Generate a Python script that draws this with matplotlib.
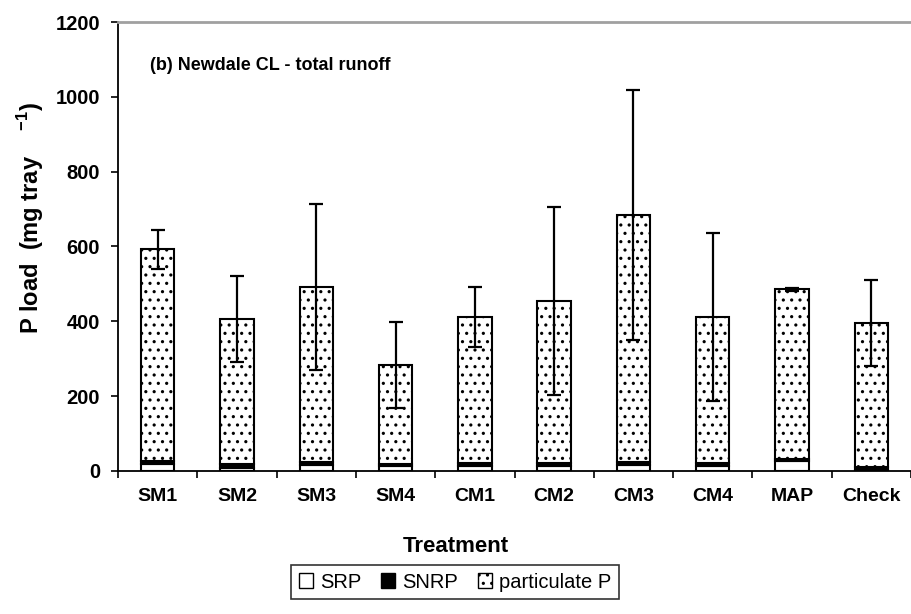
import numpy as np
import matplotlib.pyplot as plt
from matplotlib.patches import Patch

plt.rcParams['font.family'] = ['Liberation Sans', 'DejaVu Sans']
plt.rcParams['mathtext.fontset'] = 'custom'
plt.rcParams['mathtext.rm'] = 'Liberation Sans'
plt.rcParams['mathtext.bf'] = 'Liberation Sans:bold'
plt.rcParams['hatch.linewidth'] = 1.1

treatments = ['SM1', 'SM2', 'SM3', 'SM4', 'CM1', 'CM2', 'CM3', 'CM4', 'MAP', 'Check']
srp = [19, 7, 16, 13, 13, 13, 16, 13, 27, 2]
snrp = [8, 12, 7, 7, 8, 8, 7, 8, 6, 10]
total = [593, 406, 492, 283, 412, 454, 684, 411, 486, 396]
total_err = [52, 115, 222, 115, 80, 252, 335, 225, 4, 115]

particulate = [t - a - b for t, a, b in zip(total, srp, snrp)]

x = np.arange(len(treatments))
w = 0.42

fig = plt.figure(figsize=(9.11, 6.14), dpi=100)
ax = fig.add_axes([118 / 911, 1 - 471 / 614, 1 - 118 / 911, 449 / 614])

ax.bar(x, srp, w, color='white', edgecolor='black', linewidth=1.5, zorder=2)
ax.bar(x, snrp, w, bottom=srp, color='black', edgecolor='black', linewidth=1.5, zorder=2)
bot2 = [a + b for a, b in zip(srp, snrp)]
ax.bar(x, particulate, w, bottom=bot2, color='white', edgecolor='black',
       hatch='..', linewidth=1.5, zorder=2)
ax.errorbar(x, total, yerr=total_err, fmt='none', ecolor='black',
            elinewidth=1.6, capsize=5, capthick=1.6, zorder=3)

ax.set_xlim(-0.5, len(treatments) - 0.5)
ax.set_ylim(0, 1200)
ax.set_yticks(range(0, 1201, 200))
ax.set_xticks(x)
ax.set_xticklabels(treatments, fontsize=14, fontweight='bold')
ax.set_xticks(np.arange(-0.5, len(treatments), 1), minor=True)
ax.tick_params(axis='x', which='major', length=0, pad=12)
ax.tick_params(axis='x', which='minor', length=5, width=1.2, direction='out')
ax.tick_params(axis='y', length=5, width=1.2, direction='out', pad=8)
for lab in ax.get_yticklabels():
    lab.set_fontsize(14.5)
    lab.set_fontweight('bold')

ax.spines['right'].set_visible(False)
ax.spines['top'].set_color('#a0a0a0')
ax.spines['top'].set_linewidth(2)
ax.spines['left'].set_linewidth(1.3)
ax.spines['bottom'].set_linewidth(1.3)

ax.text(0.04, 0.904, '(b) Newdale CL - total runoff', transform=ax.transAxes,
        fontsize=13, fontweight='bold', va='center')

fig.text(456 / 911, 1 - 546 / 614, 'Treatment', fontsize=16, fontweight='bold',
         ha='center', va='center')
ax.set_ylabel(r'P load  (mg tray    $^{\mathbf{-1}}$)', fontsize=17, fontweight='bold')
ax.yaxis.set_label_coords((46 - 118) / 793, (471 - 218) / 449)

handles = [Patch(facecolor='white', edgecolor='black', label='SRP'),
           Patch(facecolor='black', edgecolor='black', label='SNRP'),
           Patch(facecolor='white', edgecolor='black', hatch='..', label='particulate P')]
leg = fig.legend(handles=handles, loc='center', bbox_to_anchor=(455 / 911, 1 - 582 / 614),
                 ncol=3, frameon=True, fancybox=False, fontsize=14.5,
                 handlelength=0.7, handleheight=0.7, handletextpad=0.35,
                 columnspacing=1.0, borderpad=0.35, borderaxespad=0)
leg.get_frame().set_edgecolor('black')
leg.get_frame().set_linewidth(1.2)

plt.savefig('out.png', dpi=100)
